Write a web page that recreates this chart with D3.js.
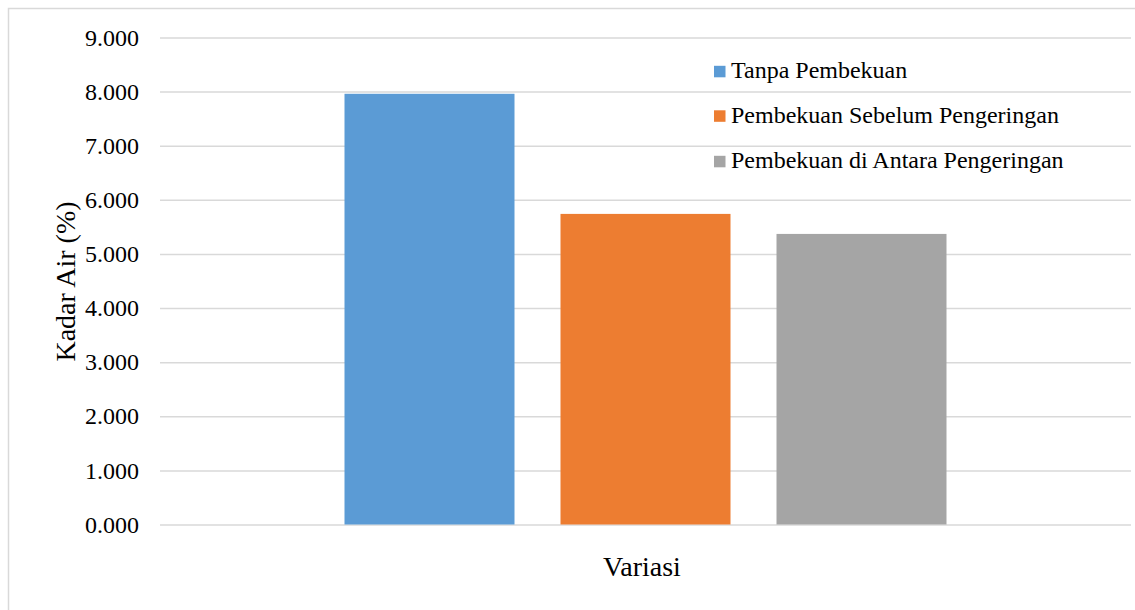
<!DOCTYPE html>
<html>
<head>
<meta charset="utf-8">
<script src="https://cdn.jsdelivr.net/npm/d3@7"></script>
<style>
  html, body { margin: 0; padding: 0; background: #fff; }
</style>
</head>
<body>
<svg id="chart" width="1135" height="610"></svg>
<script>
// Moisture content (%) for each drying variation
const series = ["Tanpa Pembekuan", "Pembekuan Sebelum Pengeringan", "Pembekuan di Antara Pengeringan"];
const values = [7.96, 5.74, 5.37];
const colors = ["#5b9bd5", "#ed7d31", "#a5a5a5"];
const yTicks = [0, 1, 2, 3, 4, 5, 6, 7, 8, 9];
const category = "Variasi";
const yTitle = "Kadar Air (%)";

const FONT = "'Liberation Serif', Tinos, 'Times New Roman', 'DejaVu Serif', serif";

const svg = d3.select("#chart");
const W = 1135, H = 610;
const plot = { left: 160, right: 1131, top: 37.5, bottom: 524.5 };

// Outer chart frame (extends past the right and bottom edges)
svg.append("rect")
  .attr("x", 8.5).attr("y", 8.5)
  .attr("width", W + 10).attr("height", H + 10)
  .attr("fill", "#fff").attr("stroke", "#d9d9d9").attr("stroke-width", 1.5);

const y = d3.scaleLinear().domain([0, 9]).range([plot.bottom, plot.top]);

// One category group with three series bars
const x0 = d3.scaleBand().domain([category]).range([plot.left, plot.right]).paddingInner(0).paddingOuter(0);
const groupWidth = 170 * 3 + 46 * 2;
const x1 = d3.scaleBand().domain(series)
  .range([x0(category) + (x0.bandwidth() - groupWidth) / 2, x0(category) + (x0.bandwidth() + groupWidth) / 2])
  .paddingInner(46 / 216).paddingOuter(0);

// Gridlines and tick labels
const yAxis = d3.axisLeft(y)
  .tickValues(yTicks)
  .tickSize(-(plot.right - plot.left))
  .tickPadding(21)
  .tickFormat(d3.format(".3f"));

const gAxis = svg.append("g")
  .attr("transform", `translate(${plot.left},0)`)
  .call(yAxis)
  .attr("font-family", FONT)
  .attr("font-size", 24);
gAxis.select(".domain").remove();
gAxis.selectAll(".tick line").attr("stroke", "#d9d9d9").attr("stroke-width", 1.5);
gAxis.selectAll(".tick text").attr("fill", "#000");

// Bars
svg.append("g").selectAll("rect")
  .data(series.map((s, i) => ({ s, v: values[i], c: colors[i] })))
  .join("rect")
  .attr("x", d => x1(d.s))
  .attr("width", x1.bandwidth())
  .attr("y", d => y(d.v))
  .attr("height", d => y(0) - y(d.v))
  .attr("fill", d => d.c);

// Axis titles
svg.append("text")
  .attr("x", 642).attr("y", 576)
  .attr("text-anchor", "middle")
  .attr("font-family", FONT)
  .attr("font-size", 28)
  .text(category);

svg.append("text")
  .attr("transform", "translate(75,281.5) rotate(-90)")
  .attr("text-anchor", "middle")
  .attr("font-family", FONT)
  .attr("font-size", 28)
  .text(yTitle);

// Legend
const legend = svg.append("g").attr("transform", "translate(714,0)")
  .attr("font-family", FONT).attr("font-size", 24);
const rowY = [78.3, 122.8, 168.3];
series.forEach((s, i) => {
  const g = legend.append("g").attr("transform", `translate(0,${rowY[i]})`);
  g.append("rect").attr("x", 0).attr("y", -12.5).attr("width", 11.5).attr("height", 11.5).attr("fill", colors[i]);
  g.append("text").attr("x", 17).attr("y", 0).text(s);
});
</script>
</body>
</html>
